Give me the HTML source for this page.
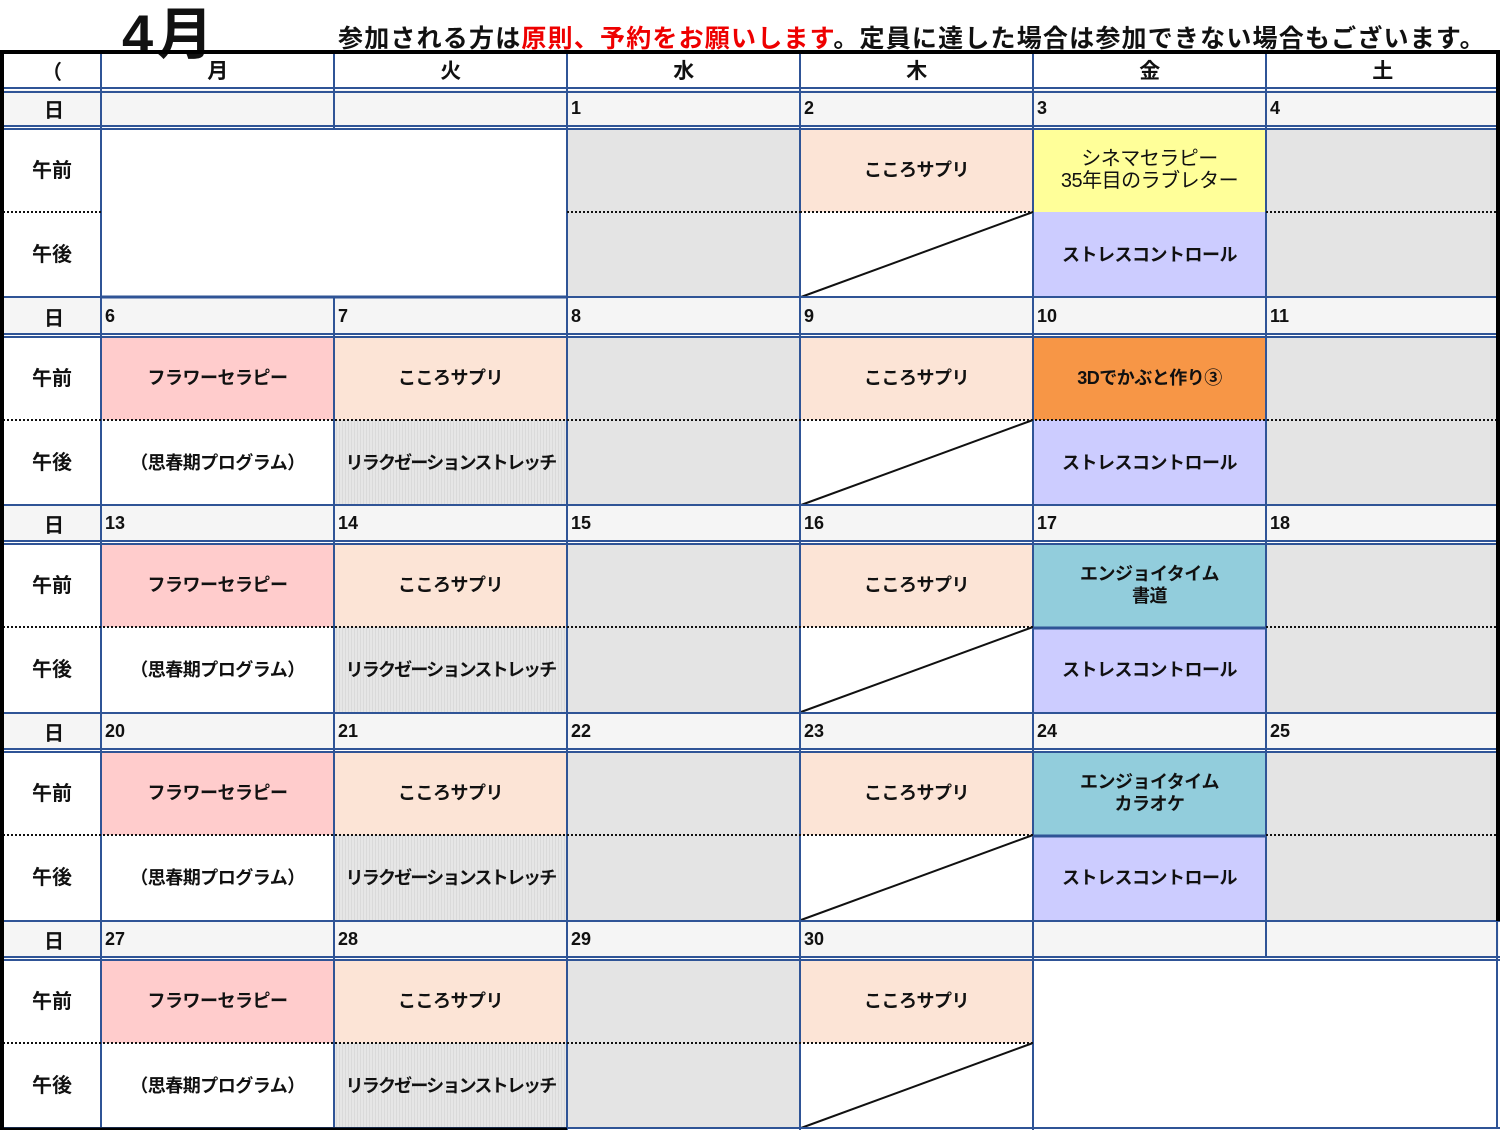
<!DOCTYPE html>
<html><head><meta charset="utf-8">
<style>
body{margin:0;width:1500px;height:1130px;background:#fff;position:relative;overflow:hidden;font-family:"Liberation Sans","Noto Sans CJK JP",sans-serif;font-weight:bold;color:#111}
.c{position:absolute;display:flex;align-items:center;justify-content:center;text-align:center;font-size:18px;line-height:22px;white-space:nowrap;letter-spacing:-0.5px}
.d{position:absolute;font-size:18px;padding-left:4px;display:flex;align-items:center;background:#f5f5f5;height:36px}
.g{background:#e4e4e4}
.k{background:#fce4d6}
.p{background:#ffcccc}
.v{background:#ccccff}
.s{background:repeating-linear-gradient(90deg,#e6e6e6 0 2px,#dadada 2px 3px);letter-spacing:-1.8px}
.lab{position:absolute;left:3px;width:98px;display:flex;align-items:center;justify-content:center;font-size:20px;padding-bottom:4px;box-sizing:border-box}
</style></head><body>
<div style="position:absolute;left:122px;top:-10px;font-size:56px;letter-spacing:4px">4月</div>
<div style="position:absolute;left:338px;top:19px;font-size:25px;white-space:nowrap;letter-spacing:1.2px">参加される方は<span style="color:#e00">原則、予約をお願いします</span>。定員に達した場合は参加できない場合もございます。</div>

<!-- header row -->
<div class="lab" style="top:54px;height:36px">（</div>
<div class="c" style="left:101px;top:54px;width:233px;height:36px;font-size:21px">月</div>
<div class="c" style="left:334px;top:54px;width:233px;height:36px;font-size:21px">火</div>
<div class="c" style="left:567px;top:54px;width:233px;height:36px;font-size:21px">水</div>
<div class="c" style="left:800px;top:54px;width:233px;height:36px;font-size:21px">木</div>
<div class="c" style="left:1033px;top:54px;width:233px;height:36px;font-size:21px">金</div>
<div class="c" style="left:1266px;top:54px;width:233px;height:36px;font-size:21px">土</div>

<!-- Week 1 -->
<div class="d" style="left:3px;top:90px;width:94px;justify-content:center;font-size:20px">日</div>
<div class="d" style="left:101px;top:90px;width:229px"></div>
<div class="d" style="left:334px;top:90px;width:229px"></div>
<div class="d" style="left:567px;top:90px;width:229px">1</div>
<div class="d" style="left:800px;top:90px;width:229px">2</div>
<div class="d" style="left:1033px;top:90px;width:229px">3</div>
<div class="d" style="left:1266px;top:90px;width:229px">4</div>
<div class="lab" style="top:128px;height:84px">午前</div>
<div class="lab" style="top:212px;height:85px">午後</div>
<div class="c g" style="left:567px;top:128px;width:233px;height:169px"></div>
<div class="c k" style="left:800px;top:128px;width:233px;height:84px">こころサプリ</div>
<div class="c" style="left:1033px;top:128px;width:233px;height:84px;background:#ffff99;font-weight:normal;font-size:20px;letter-spacing:-0.5px">シネマセラピー<br>35年目のラブレター</div>
<div class="c v" style="left:1033px;top:212px;width:233px;height:85px">ストレスコントロール</div>
<div class="c g" style="left:1266px;top:128px;width:233px;height:169px"></div>

<!-- Week 2 -->
<div class="d" style="left:3px;top:298px;width:94px;justify-content:center;font-size:20px">日</div>
<div class="d" style="left:101px;top:298px;width:229px">6</div>
<div class="d" style="left:334px;top:298px;width:229px">7</div>
<div class="d" style="left:567px;top:298px;width:229px">8</div>
<div class="d" style="left:800px;top:298px;width:229px">9</div>
<div class="d" style="left:1033px;top:298px;width:229px">10</div>
<div class="d" style="left:1266px;top:298px;width:229px">11</div>
<div class="lab" style="top:336px;height:84px">午前</div>
<div class="lab" style="top:420px;height:85px">午後</div>
<div class="c p" style="left:101px;top:336px;width:233px;height:84px">フラワーセラピー</div>
<div class="c" style="left:101px;top:420px;width:233px;height:85px">（思春期プログラム）</div>
<div class="c k" style="left:334px;top:336px;width:233px;height:84px">こころサプリ</div>
<div class="c s" style="left:334px;top:420px;width:233px;height:85px">リラクゼーションストレッチ</div>
<div class="c g" style="left:567px;top:336px;width:233px;height:169px"></div>
<div class="c k" style="left:800px;top:336px;width:233px;height:84px">こころサプリ</div>
<div class="c" style="left:1033px;top:336px;width:233px;height:84px;background:#f79646">3Dでかぶと作り③</div>
<div class="c v" style="left:1033px;top:420px;width:233px;height:85px">ストレスコントロール</div>
<div class="c g" style="left:1266px;top:336px;width:233px;height:169px"></div>

<!-- Week 3 -->
<div class="d" style="left:3px;top:505px;width:94px;justify-content:center;font-size:20px">日</div>
<div class="d" style="left:101px;top:505px;width:229px">13</div>
<div class="d" style="left:334px;top:505px;width:229px">14</div>
<div class="d" style="left:567px;top:505px;width:229px">15</div>
<div class="d" style="left:800px;top:505px;width:229px">16</div>
<div class="d" style="left:1033px;top:505px;width:229px">17</div>
<div class="d" style="left:1266px;top:505px;width:229px">18</div>
<div class="lab" style="top:543px;height:84px">午前</div>
<div class="lab" style="top:627px;height:85px">午後</div>
<div class="c p" style="left:101px;top:543px;width:233px;height:84px">フラワーセラピー</div>
<div class="c" style="left:101px;top:627px;width:233px;height:85px">（思春期プログラム）</div>
<div class="c k" style="left:334px;top:543px;width:233px;height:84px">こころサプリ</div>
<div class="c s" style="left:334px;top:627px;width:233px;height:85px">リラクゼーションストレッチ</div>
<div class="c g" style="left:567px;top:543px;width:233px;height:169px"></div>
<div class="c k" style="left:800px;top:543px;width:233px;height:84px">こころサプリ</div>
<div class="c" style="left:1033px;top:543px;width:233px;height:84px;background:#92cddc">エンジョイタイム<br>書道</div>
<div class="c v" style="left:1033px;top:627px;width:233px;height:85px">ストレスコントロール</div>
<div class="c g" style="left:1266px;top:543px;width:233px;height:169px"></div>

<!-- Week 4 -->
<div class="d" style="left:3px;top:713px;width:94px;justify-content:center;font-size:20px">日</div>
<div class="d" style="left:101px;top:713px;width:229px">20</div>
<div class="d" style="left:334px;top:713px;width:229px">21</div>
<div class="d" style="left:567px;top:713px;width:229px">22</div>
<div class="d" style="left:800px;top:713px;width:229px">23</div>
<div class="d" style="left:1033px;top:713px;width:229px">24</div>
<div class="d" style="left:1266px;top:713px;width:229px">25</div>
<div class="lab" style="top:751px;height:84px">午前</div>
<div class="lab" style="top:835px;height:85px">午後</div>
<div class="c p" style="left:101px;top:751px;width:233px;height:84px">フラワーセラピー</div>
<div class="c" style="left:101px;top:835px;width:233px;height:85px">（思春期プログラム）</div>
<div class="c k" style="left:334px;top:751px;width:233px;height:84px">こころサプリ</div>
<div class="c s" style="left:334px;top:835px;width:233px;height:85px">リラクゼーションストレッチ</div>
<div class="c g" style="left:567px;top:751px;width:233px;height:169px"></div>
<div class="c k" style="left:800px;top:751px;width:233px;height:84px">こころサプリ</div>
<div class="c" style="left:1033px;top:751px;width:233px;height:84px;background:#92cddc">エンジョイタイム<br>カラオケ</div>
<div class="c v" style="left:1033px;top:835px;width:233px;height:85px">ストレスコントロール</div>
<div class="c g" style="left:1266px;top:751px;width:233px;height:169px"></div>

<!-- Week 5 -->
<div class="d" style="left:3px;top:921px;width:94px;justify-content:center;font-size:20px">日</div>
<div class="d" style="left:101px;top:921px;width:229px">27</div>
<div class="d" style="left:334px;top:921px;width:229px">28</div>
<div class="d" style="left:567px;top:921px;width:229px">29</div>
<div class="d" style="left:800px;top:921px;width:229px">30</div>
<div class="d" style="left:1033px;top:921px;width:229px"></div>
<div class="d" style="left:1266px;top:921px;width:229px"></div>
<div class="lab" style="top:959px;height:84px">午前</div>
<div class="lab" style="top:1043px;height:85px">午後</div>
<div class="c p" style="left:101px;top:959px;width:233px;height:84px">フラワーセラピー</div>
<div class="c" style="left:101px;top:1043px;width:233px;height:85px">（思春期プログラム）</div>
<div class="c k" style="left:334px;top:959px;width:233px;height:84px">こころサプリ</div>
<div class="c s" style="left:334px;top:1043px;width:233px;height:85px">リラクゼーションストレッチ</div>
<div class="c g" style="left:567px;top:959px;width:233px;height:169px"></div>
<div class="c k" style="left:800px;top:959px;width:233px;height:84px">こころサプリ</div>

<!-- lines -->
<svg style="position:absolute;left:0;top:0" width="1500" height="1130">
<g stroke="#111" stroke-width="2">
<line x1="801" y1="297" x2="1033" y2="212"/>
<line x1="801" y1="505" x2="1033" y2="420"/>
<line x1="801" y1="712" x2="1033" y2="627"/>
<line x1="801" y1="920" x2="1033" y2="835"/>
<line x1="801" y1="1128" x2="1033" y2="1043"/>
</g>
<g stroke="#2f5496" stroke-width="2" fill="none">
<line x1="101" y1="52" x2="101" y2="1130"/>
<line x1="334" y1="52" x2="334" y2="128"/>
<line x1="334" y1="297" x2="334" y2="1130"/>
<line x1="567" y1="52" x2="567" y2="1130"/>
<line x1="800" y1="52" x2="800" y2="1130"/>
<line x1="1033" y1="52" x2="1033" y2="1130"/>
<line x1="1266" y1="52" x2="1266" y2="957"/>
<line x1="1497" y1="921" x2="1497" y2="1128"/>
<line x1="3" y1="88" x2="1500" y2="88"/>
<line x1="3" y1="92" x2="1500" y2="92"/>
<line x1="3" y1="126" x2="1500" y2="126"/><line x1="3" y1="129" x2="1500" y2="129"/>
<line x1="3" y1="297" x2="1500" y2="297"/>
<line x1="3" y1="334" x2="1500" y2="334"/><line x1="3" y1="337" x2="1500" y2="337"/>
<line x1="3" y1="505" x2="1500" y2="505"/>
<line x1="3" y1="541" x2="1500" y2="541"/><line x1="3" y1="544" x2="1500" y2="544"/>
<line x1="3" y1="713" x2="1500" y2="713"/>
<line x1="3" y1="749" x2="1500" y2="749"/><line x1="3" y1="752" x2="1500" y2="752"/>
<line x1="3" y1="921" x2="1500" y2="921"/>
<line x1="3" y1="957" x2="1500" y2="957"/><line x1="3" y1="960" x2="1500" y2="960"/>
<line x1="3" y1="1128" x2="1500" y2="1128"/>
</g>
<g stroke="#2f5496" stroke-width="3">
<line x1="101" y1="297" x2="567" y2="297"/>
<line x1="1033" y1="628" x2="1266" y2="628"/>
<line x1="1033" y1="836" x2="1266" y2="836"/>
</g>
<g stroke="#111" stroke-width="2" stroke-dasharray="2,2">
<line x1="3" y1="212" x2="101" y2="212"/><line x1="567" y1="212" x2="800" y2="212"/><line x1="800" y1="212" x2="1033" y2="212"/><line x1="1266" y1="212" x2="1500" y2="212"/>
<line x1="3" y1="420" x2="1500" y2="420"/>
<line x1="3" y1="627" x2="1033" y2="627"/><line x1="1266" y1="627" x2="1500" y2="627"/>
<line x1="3" y1="835" x2="1033" y2="835"/><line x1="1266" y1="835" x2="1500" y2="835"/>
<line x1="3" y1="1043" x2="1033" y2="1043"/>
</g>
<g stroke="#000">
<line x1="0" y1="52" x2="1500" y2="52" stroke-width="4"/>
<line x1="2" y1="52" x2="2" y2="1130" stroke-width="4"/>
<line x1="1498" y1="52" x2="1498" y2="921" stroke-width="4"/>
<line x1="0" y1="1129" x2="567" y2="1129" stroke-width="3"/>
</g>
</svg>
</body></html>
